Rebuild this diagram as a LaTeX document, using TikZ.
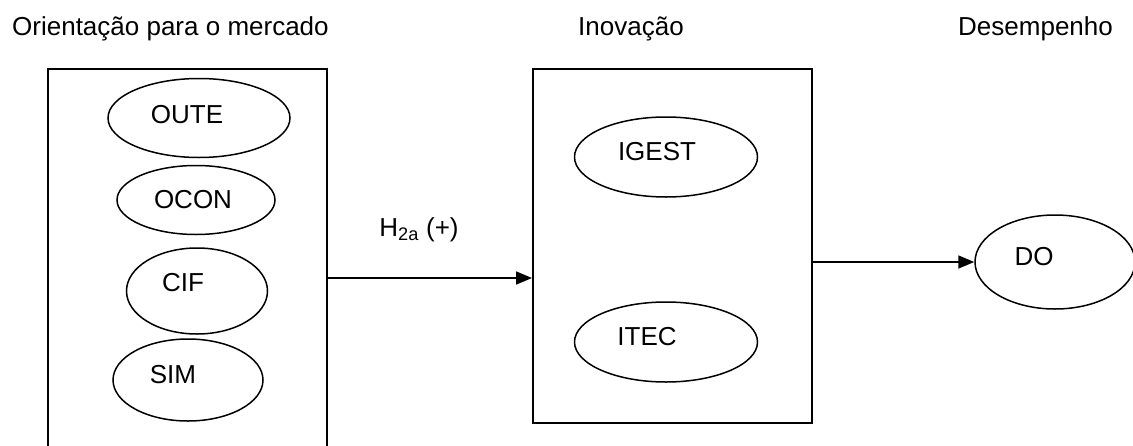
\documentclass[tikz,border=0pt]{standalone}
\usepackage{fontspec}
\setmainfont{Liberation Sans}
\usetikzlibrary{positioning,calc,shapes.geometric,arrows.meta}

\tikzset{
  var/.style={ellipse, draw=black, line width=1.5pt, inner sep=0pt},
  blk/.style={rectangle, draw=black, line width=2pt, minimum width=279pt},
  head/.style={anchor=base west, inner sep=0pt},
  arr/.style={line width=1.7pt, -{Triangle[length=16pt,width=13pt]}},
}

\begin{document}
\begin{tikzpicture}[x=1pt,y=-1pt,font=\fontsize{26}{31}\selectfont]
		\useasboundingbox (0,0) rectangle (1133,445);
		\clip (0,0) rectangle (1133,445);
		% headings
		\node[head] (hOM) at (12,35) {Orientação para o mercado};
		\node[head] (hIN) at (578,35) {Inovação};
		\node[head] (hDE) at (958,35) {Desempenho};
		
		% blocks
		\node[blk, minimum height=418pt] (om) at (187.5,278) {};
		\node[blk, minimum height=354pt] (inov) at (672.5,246) {};
		
		% variables
		\node[var, minimum width=182pt, minimum height=79pt, label={[xshift=-12pt,yshift=3pt]center:OUTE}] (oute) at (199,118) {};
		\node[var, minimum width=158pt, minimum height=69pt, label={[xshift=-3pt]center:OCON}] (ocon) at (196,200) {};
		\node[var, minimum width=141pt, minimum height=86pt, label={[xshift=-14pt,yshift=8pt]center:CIF}] (cif) at (197,291) {};
		\node[var, minimum width=150pt, minimum height=82pt, label={[xshift=-15pt,yshift=5pt]center:SIM}] (sim) at (188,380) {};
		\node[var, minimum width=183pt, minimum height=80pt, label={[xshift=-9pt,yshift=5pt]center:IGEST}] (igest) at (666,157) {};
		\node[var, minimum width=183pt, minimum height=80pt, label={[xshift=-19pt,yshift=5pt]center:ITEC}] (itec) at (666,342) {};
		\node[var, minimum width=160pt, minimum height=94pt, label={[xshift=-21pt,yshift=5pt]center:DO}] (do) at (1055,262) {};
		
		% hypotheses
		\draw[arr] (om.east) -- (inov.west |- om.east);
		\node (h2a) at (419,230) {H\textsubscript{2a} (+)};
		\draw[arr] (inov.east |- do.west) -- (do.west);
	\end{tikzpicture}
\end{document}
